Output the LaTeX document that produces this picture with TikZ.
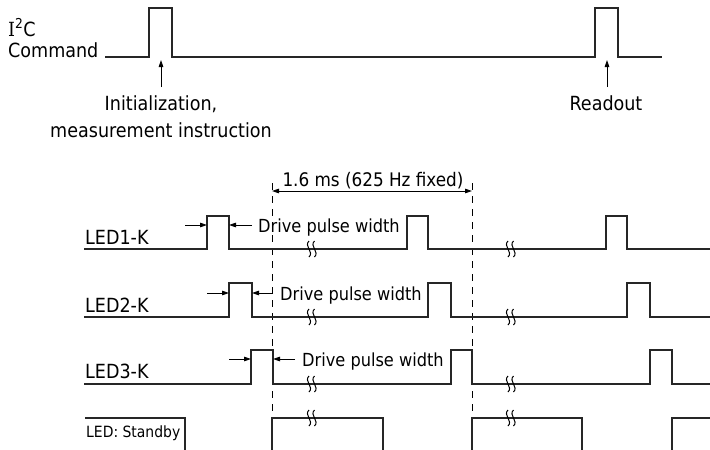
\documentclass[tikz,border=0pt]{standalone}
\usepackage{fontspec}
\setmainfont{DejaVu Sans Condensed}
\newfontfamily\slabfont{DejaVu Serif Condensed}
\usetikzlibrary{arrows.meta}
\begin{document}
\begin{tikzpicture}[x=1pt,y=-1pt,
  sig/.style={line width=1.2pt, black!85, line join=miter},
  lbl/.style={inner sep=0pt, font=\fontsize{19.5}{22}\selectfont},
  dpw/.style={inner sep=0pt, font=\fontsize{18}{20}\selectfont},
  small/.style={inner sep=0pt, font=\fontsize{15.5}{18}\selectfont},
  arr/.style={line width=0.8pt, -{Triangle[length=7pt,width=4.5pt]}},
  dimarr/.style={line width=0.8pt, {Triangle[length=7pt,width=4.5pt]}-{Triangle[length=7pt,width=4.5pt]}},
  guide/.style={line width=0.8pt, dash pattern=on 7pt off 6pt},
  brk/.pic={\draw[line width=1pt] (-3,-8) .. controls (-8.5,-3) and (2.5,3) .. (-3,8);
            \draw[line width=1pt] (2.5,-8) .. controls (-3,-3) and (8,3) .. (2.5,8);}]
\useasboundingbox (0,0) rectangle (710,450);

% ---------- I2C command ----------
\node[lbl, anchor=base west] (i2c) at (8,36) {{\slabfont I}\textsuperscript{2}C};
\node[lbl, anchor=base west] (cmd) at (8,57) {Command};
\draw[sig] (105,57) -- (149,57) -- (149,8) -- (172,8) -- (172,57) -- (595,57) -- (595,8) -- (618,8) -- (618,57) -- (662,57);
\node[lbl, anchor=base] (init) at (161,110) {Initialization,};
\node[lbl, anchor=base] (meas) at (161,137) {measurement instruction};
\node[lbl, anchor=base] (rd) at (606,110) {Readout};
\coordinate (initA) at (161,87); \coordinate (initB) at (161,60);
\coordinate (rdA) at (607,87); \coordinate (rdB) at (607,60);
\draw[arr] (initA) -- (initB);
\draw[arr] (rdA) -- (rdB);

% ---------- period guides ----------
\coordinate (g1t) at (272,183); \coordinate (g1b) at (272,450);
\coordinate (g2t) at (472,183); \coordinate (g2b) at (472,450);
\draw[guide] (g1t) -- (g1b);
\draw[guide] (g2t) -- (g2b);
\coordinate (d1) at (272,191); \coordinate (d2) at (472,191);
\draw[dimarr] (d1) -- (d2);
\node[lbl, font=\fontsize{18.7}{21}\selectfont, anchor=base] (per) at (373,186) {1.6 ms (625 Hz fixed)};

% ---------- LED1 ----------
\node[lbl, anchor=base west] (l1) at (85,244) {LED1-K};
\draw[sig] (84,249) -- (207,249) -- (207,216) -- (229,216) -- (229,249) -- (407,249) -- (407,216) -- (428,216) -- (428,249) -- (606,249) -- (606,216) -- (627,216) -- (627,249) -- (710,249);
\draw[arr] (185,225) -- (207,225);
\draw[arr] (252,225) -- (229,225);
\node[dpw, anchor=base west] (dp1) at (258,232) {Drive pulse width};
\pic at (312,249) {brk};
\pic at (511,249) {brk};

% ---------- LED2 ----------
\node[lbl, anchor=base west] (l2) at (85,312) {LED2-K};
\draw[sig] (84,317) -- (229,317) -- (229,283) -- (252,283) -- (252,317) -- (428,317) -- (428,283) -- (451,283) -- (451,317) -- (627,317) -- (627,283) -- (650,283) -- (650,317) -- (710,317);
\draw[arr] (207,293) -- (229,293);
\draw[arr] (273,293) -- (252,293);
\node[dpw, anchor=base west] (dp2) at (280,300) {Drive pulse width};
\pic at (312,317) {brk};
\pic at (511,317) {brk};

% ---------- LED3 ----------
\node[lbl, anchor=base west] (l3) at (85,378) {LED3-K};
\draw[sig] (84,384) -- (251,384) -- (251,350) -- (273,350) -- (273,384) -- (451,384) -- (451,350) -- (472,350) -- (472,384) -- (650,384) -- (650,350) -- (672,350) -- (672,384) -- (710,384);
\draw[arr] (229,359) -- (251,359);
\draw[arr] (295,359) -- (273,359);
\node[dpw, anchor=base west] (dp3) at (302,366) {Drive pulse width};
\pic at (312,384) {brk};
\pic at (511,384) {brk};

% ---------- Standby ----------
\node[small, anchor=base west] (sb) at (86,437) {LED: Standby};
\draw[sig] (85,418) -- (185,418) -- (185,450);
\draw[sig] (272,450) -- (272,418) -- (383,418) -- (383,450);
\draw[sig] (472,450) -- (472,418) -- (582,418) -- (582,450);
\draw[sig] (672,450) -- (672,418) -- (710,418);
\pic at (312,418) {brk};
\pic at (511,418) {brk};
\end{tikzpicture}
\end{document}
